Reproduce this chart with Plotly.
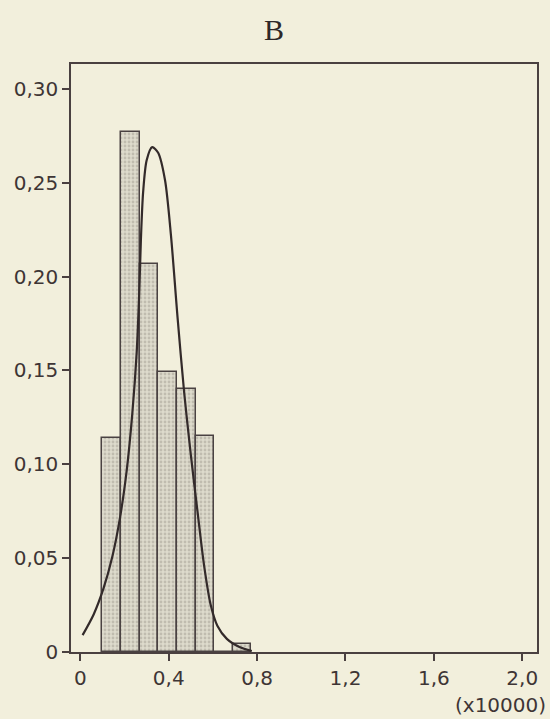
import plotly.graph_objects as go

# Histogram data (x in units of 10000)
bin_centers = [0.142, 0.226, 0.311, 0.395, 0.479, 0.564, 0.648, 0.732]
bin_width = 0.0843
frequencies = [0.114, 0.277, 0.207, 0.149, 0.140, 0.115, 0.0, 0.0045]

# Fitted density curve
curve_x = [0.01, 0.06, 0.105, 0.145, 0.18, 0.21, 0.235, 0.255, 0.266, 0.274,
           0.284, 0.300, 0.325, 0.352, 0.383, 0.41, 0.44, 0.47, 0.50, 0.53,
           0.56, 0.59, 0.62, 0.663, 0.72, 0.776]
curve_y = [0.009, 0.020, 0.034, 0.051, 0.072, 0.097, 0.127, 0.160, 0.190, 0.220,
           0.245, 0.262, 0.269, 0.266, 0.2515, 0.222, 0.178, 0.138, 0.105, 0.075,
           0.046, 0.025, 0.014, 0.007, 0.0027, 0.0005]

x_tickvals = [0, 0.4, 0.8, 1.2, 1.6, 2.0]
x_ticktext = ["0", "0,4", "0,8", "1,2", "1,6", "2,0"]
y_tickvals = [0, 0.05, 0.10, 0.15, 0.20, 0.25, 0.30]
y_ticktext = ["0", "0,05", "0,10", "0,15", "0,20", "0,25", "0,30"]

paper = "#f2efdc"
ink = "#3e3535"

fig = go.Figure()
fig.add_trace(go.Bar(
    x=bin_centers, y=frequencies, width=[bin_width] * len(bin_centers),
    marker=dict(color="#d8d5c6",
                line=dict(color="#4a4242", width=1.5),
                pattern=dict(shape=".", fgcolor="#a19d92", bgcolor="#dedbcc",
                             size=4, solidity=0.4)),
    showlegend=False,
))
fig.add_trace(go.Scatter(
    x=curve_x, y=curve_y, mode="lines",
    line=dict(color="#332a2a", width=2.2, shape="spline", smoothing=0.8),
    showlegend=False,
))

axis_font = dict(family="DejaVu Sans", size=20, color=ink)
fig.update_layout(
    width=550, height=719,
    margin=dict(l=70.7, r=13, t=64, b=67.3),
    paper_bgcolor=paper, plot_bgcolor=paper,
    bargap=0,
    xaxis=dict(range=[-0.0425, 2.067], tickvals=x_tickvals, ticktext=x_ticktext,
               showgrid=False, zeroline=False, showline=True, mirror=True,
               linecolor="#4a4040", linewidth=1.6, ticks="outside", ticklen=7,
               tickwidth=1.5, tickcolor="#4a4040", tickfont=axis_font),
    yaxis=dict(range=[0, 0.3133], tickvals=y_tickvals, ticktext=y_ticktext,
               showgrid=False, zeroline=False, showline=True, mirror=True,
               linecolor="#4a4040", linewidth=1.6, ticks="outside", ticklen=7,
               tickwidth=1.5, tickcolor="#4a4040", tickfont=axis_font),
    annotations=[
        dict(text="B", xref="paper", yref="paper", x=0.436, y=1.0595,
             xanchor="center", yanchor="middle", showarrow=False,
             font=dict(family="Liberation Serif", size=30, color="#2e2828")),
        dict(text="(x10000)", xref="paper", yref="paper", x=1.0236, y=-0.0907,
             xanchor="right", yanchor="middle", showarrow=False,
             font=axis_font),
    ],
)

fig.write_html(
    "out.html",
    config={"displayModeBar": False},
    post_script="document.body.style.margin='0';document.body.style.overflow='hidden';"
                "document.documentElement.style.overflow='hidden';",
)
